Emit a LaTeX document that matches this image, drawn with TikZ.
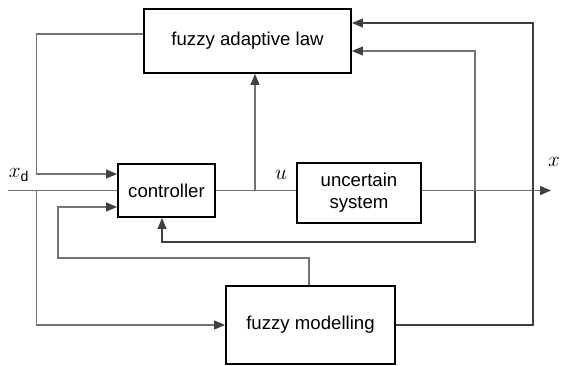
\documentclass[tikz,border=0pt]{standalone}
\usepackage{fontspec}
\setmainfont{Liberation Sans}
\usetikzlibrary{positioning,arrows.meta}

\begin{document}
\begin{tikzpicture}[
      >={Triangle[length=2.2mm, width=1.8mm, color=black!75]},
      every node/.style={font=\fontsize{10.6}{12.4}\selectfont},
      block/.style={draw, line width=1.1pt, align=center, inner sep=0pt},
      sig/.style={draw=black!55, line width=0.6pt},
      dsig/.style={draw=black!75, line width=0.6pt}
    ]
      \useasboundingbox (0,0) rectangle (11.24,7.3);

      \node[block, minimum width=4.14cm, minimum height=1.28cm] (fal) at (4.95,6.48) {fuzzy adaptive law};
      \node[block, minimum width=1.94cm, minimum height=1.06cm] (ctrl) at (3.33,3.49) {controller};
      \node[block, minimum width=2.48cm, minimum height=1.2cm] (sys) at (7.18,3.44) {uncertain\\system};
      \node[block, minimum width=3.38cm, minimum height=1.56cm] (fm) at (6.21,0.8) {fuzzy modelling};

      \node (xdlab) at (0.38,3.8) {\large$x_{\mathrm{d}}$};
      \node (ulab) at (5.62,3.8) {\large$u$};
      \node[inner sep=1pt, anchor=east] (xlab) at (11.24,4.06) {\large$x$};

      \coordinate (in) at (0.16,3.49);
      \coordinate (br) at (0.73,3.49);
      \coordinate (ubr) at (5.1,3.49);
      \coordinate (xbr) at (9.5,3.49);
      \coordinate (out) at (11.02,3.49);
      \coordinate (lp1) at (10.66,6.84);
      \coordinate (lp2) at (9.5,2.46);
      \coordinate (lp3) at (1.16,2.14);
      \coordinate (lp4) at (0.73,3.82);

      \draw[sig] (in) -- (ctrl.west);
      \draw[sig,->] (br) |- (fm.west);
      \draw[sig,->] ([yshift=0.14cm]fal.west) -| (lp4) -- (lp4 -| ctrl.west);
      \draw[sig] (ctrl.east) -- (ctrl.east -| sys.west);
      \draw[sig,->] (ubr) -- (ubr |- fal.south);
      \draw[sig,->] (ctrl.east -| sys.east) -- (out);
      \draw[dsig,->] (fm.east) -| (lp1) -- (lp1 -| fal.east);
      \draw[sig,->] (xbr) |- ([yshift=-0.2cm]fal.east);
      \draw[dsig,->] (xbr) -- (lp2) -| ([xshift=-0.09cm]ctrl.south);
      \draw[sig,->] ([xshift=-0.03cm]fm.north) |- (lp3) |- ([yshift=-0.33cm]ctrl.west);
    \end{tikzpicture}
\end{document}
